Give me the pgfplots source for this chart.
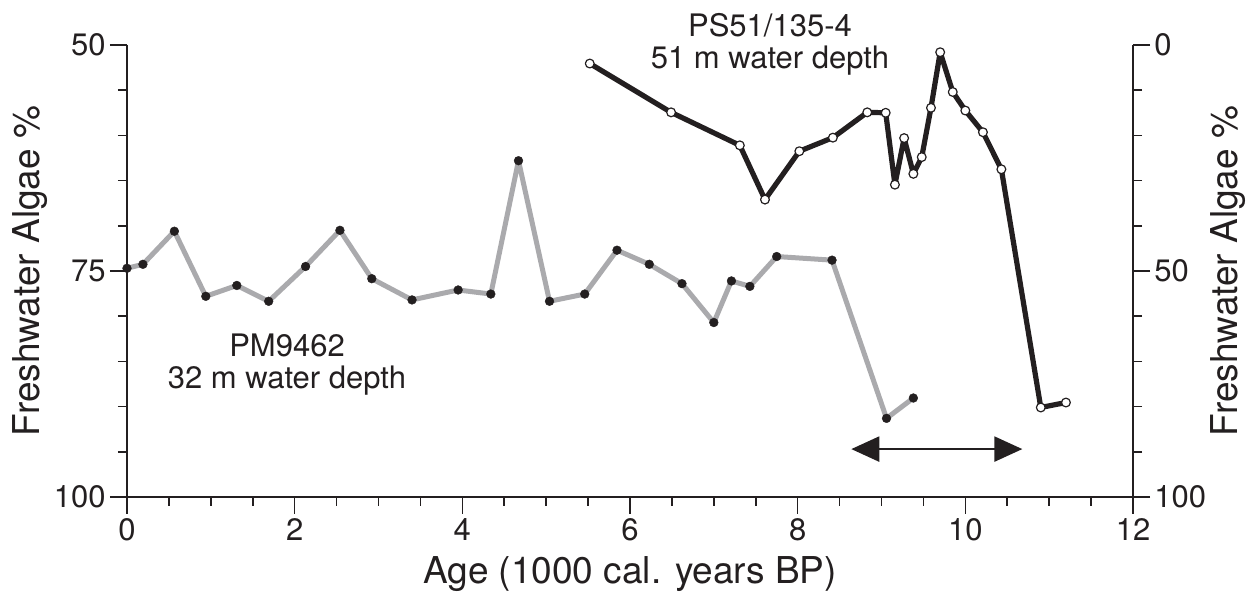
\documentclass[border=0pt]{standalone}
\usepackage{pgfplots}
\pgfplotsset{compat=1.18}
\usepackage{fontspec}
\setmainfont{TeX Gyre Heros}
\usetikzlibrary{arrows.meta}
\definecolor{ink}{HTML}{231F20}
\definecolor{graylin}{HTML}{AAAAAD}
\pgfplotsset{
  common/.style={
    scale only axis, width=503pt, height=226pt,
    at={(0pt,0pt)}, anchor=south west,
    xmin=0, xmax=12, clip=false,
    y dir=reverse,
    tick align=outside,
    major tick length=8.5pt, minor tick length=4.5pt,
    every tick/.style={ink, line width=0.8pt},
    axis line style={ink, line width=1.2pt},
    /pgf/number format/assume math mode=true,
    tick label style={font=\fontsize{15.5}{16}\selectfont, text=ink},
    label style={font=\fontsize{18.5}{19}\selectfont, text=ink},
  }
}
\begin{document}
\begin{tikzpicture}
\begin{axis}[common,
  ymin=50, ymax=100,
  axis x line*=bottom, axis y line*=left,
  xtick={0,2,4,6,8,10,12},
  minor xtick={0.5,1,1.5,2.5,3,3.5,4.5,5,5.5,6.5,7,7.5,8.5,9,9.5,10.5,11,11.5},
  ytick={50,75,100},
  minor ytick={55,60,65,70,80,85,90,95},
  yticklabel style={inner sep=2pt},
  xticklabel style={inner sep=2pt},
  xlabel={Age (1000 cal. years BP)},
  ylabel={Freshwater Algae \%},
  xlabel style={at={(axis description cs:0.5,-0.170)}, anchor=center},
  ylabel style={at={(axis description cs:-0.0964,0.5)}, anchor=center, rotate=0},
]
\addplot[graylin, line width=2.5pt, line join=round,
  mark=*, mark size=2.2pt, mark options={fill=ink, draw=ink, line width=0.2pt}]
  coordinates {
  (0.0,74.7) (0.19,74.26) (0.565,70.6) (0.94,77.8) (1.31,76.6) (1.69,78.35)
  (2.13,74.5) (2.54,70.5) (2.92,75.85) (3.40,78.2) (3.95,77.1) (4.34,77.55)
  (4.67,62.8) (5.04,78.35) (5.46,77.55) (5.845,72.7) (6.23,74.26) (6.62,76.4)
  (7.00,80.7) (7.21,76.1) (7.43,76.7) (7.75,73.4) (8.41,73.8) (9.06,91.3)
  (9.38,89.05)
  };
\addplot[ink, line width=1.2pt,
  {Triangle[length=14pt,width=12.5pt]}-{Triangle[length=14pt,width=12.5pt]}]
  coordinates {(8.64,94.7) (10.68,94.7)};
\node[anchor=base, font=\fontsize{15.5}{16}\selectfont, text=ink] at (axis cs:1.909,84.48) {PM9462};
\node[anchor=base, font=\fontsize{15.5}{16}\selectfont, text=ink] at (axis cs:1.909,87.98) {32 m water depth};
\node[anchor=base, font=\fontsize{15.5}{16}\selectfont, text=ink] at (axis cs:7.67,49.08) {PS51/135-4};
\node[anchor=base, font=\fontsize{15.5}{16}\selectfont, text=ink] at (axis cs:7.67,52.58) {51 m water depth};
\end{axis}
\begin{axis}[common,
  ymin=0, ymax=100,
  axis x line=none, axis y line*=right,
  ytick={0,50,100},
  minor ytick={10,20,30,40,60,70,80,90},
  yticklabel style={inner sep=2pt},
  ylabel={Freshwater Algae \%},
  ylabel style={at={(axis description cs:1.0944,0.5)}, anchor=center, rotate=0},
]
\addplot[ink, line width=2.6pt, line join=round,
  mark=*, mark size=2.2pt, mark options={fill=white, draw=ink, line width=0.6pt}]
  coordinates {
  (5.52,4.1) (6.49,14.9) (7.31,22.2) (7.61,34.2) (8.02,23.5) (8.42,20.5)
  (8.83,14.9) (9.05,15.0) (9.16,30.9) (9.27,20.6) (9.38,28.5) (9.48,24.8)
  (9.59,13.9) (9.70,1.6) (9.85,10.4) (10.00,14.5) (10.21,19.3) (10.43,27.5)
  (10.90,80.2) (11.20,79.1)
  };
\end{axis}
\pgfresetboundingbox
\useasboundingbox (-63.5pt,-47.5pt) rectangle (561.5pt,248.5pt);
\end{tikzpicture}
\end{document}
